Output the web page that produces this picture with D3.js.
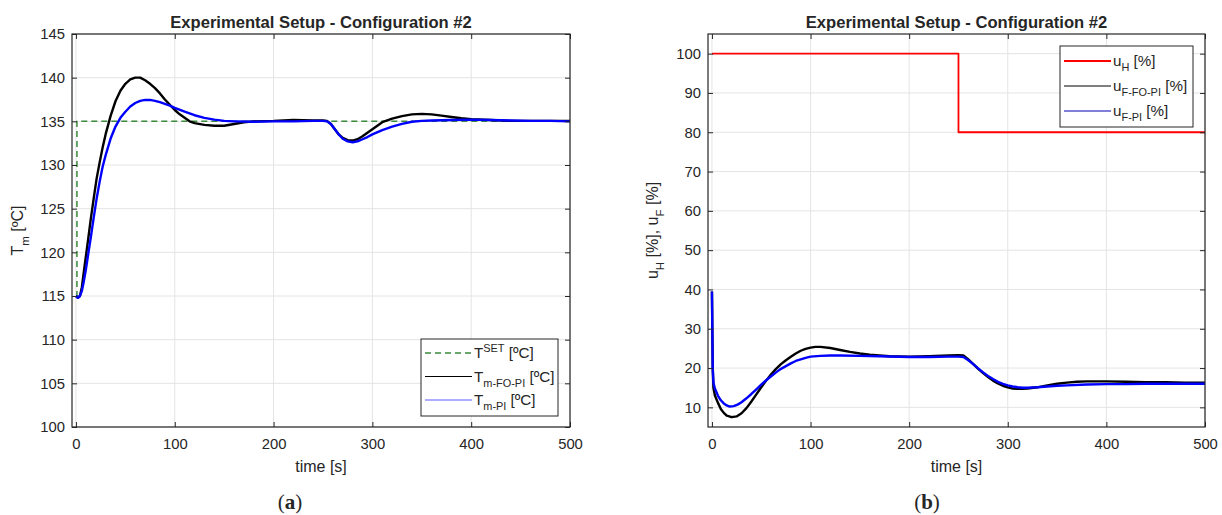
<!DOCTYPE html>
<html>
<head>
<meta charset="utf-8">
<script src="https://cdn.jsdelivr.net/npm/d3@7"></script>
<style>
  body { margin: 0; background: #fff; }
  svg text { font-family: "Liberation Sans", Arial, sans-serif; fill: #262626; }
</style>
</head>
<body>
<svg id="chart" width="1222" height="515"></svg>
<script>

// ---- data ----
const timeTicks = [0, 100, 200, 300, 400, 500]
const tempTicks = [100, 105, 110, 115, 120, 125, 130, 135, 140, 145]
const ctrlTicks = [10, 20, 30, 40, 50, 60, 70, 80, 90, 100]

// (a) temperatures [t, degC]
const tSet = [[0, 115], [1, 115], [1, 135], [500, 135]]

const tmFoPi = [[0, 115], [2, 114.8], [4, 115], [6, 116], [8, 117.8], [10, 119.5], [12, 121.2], [15, 123.8],
  [18, 126.2], [21, 128.5], [24, 130.3], [27, 132], [30, 133.5], [35, 135.6], [40, 137.3], [45, 138.5],
  [50, 139.3], [55, 139.8], [60, 140], [65, 140], [70, 139.7], [75, 139.3], [80, 138.8], [85, 138.2],
  [90, 137.5], [95, 136.9], [100, 136.3], [105, 135.8], [110, 135.4], [115, 135.0], [120, 134.8],
  [130, 134.6], [140, 134.5], [150, 134.5], [160, 134.7], [170, 134.9], [180, 135.0], [200, 135.05],
  [220, 135.15], [240, 135.1], [250, 135.1], [254, 135.05], [258, 134.7], [262, 134.1], [266, 133.5],
  [270, 133.1], [275, 132.85], [280, 132.8], [285, 132.95], [290, 133.3], [295, 133.7], [300, 134.1],
  [305, 134.5], [310, 134.9], [320, 135.3], [330, 135.6], [340, 135.8], [350, 135.85], [360, 135.8],
  [370, 135.65], [380, 135.5], [390, 135.35], [400, 135.25], [420, 135.15], [440, 135.05],
  [460, 135.05], [480, 135.05], [500, 135.05]]

const tmPi = [[0, 115], [2, 114.8], [4, 115], [6, 115.6], [8, 116.7], [10, 118], [12, 119.5], [15, 121.7],
  [18, 124], [21, 126.2], [24, 128.1], [27, 129.8], [30, 131.1], [35, 133], [40, 134.4], [45, 135.4],
  [50, 136.1], [55, 136.7], [60, 137.1], [65, 137.35], [70, 137.45], [75, 137.45], [80, 137.35],
  [85, 137.2], [90, 137.0], [95, 136.8], [100, 136.55], [110, 136.1], [120, 135.7], [130, 135.4],
  [140, 135.2], [150, 135.05], [160, 135.0], [180, 134.95], [200, 135.0], [220, 135.0], [240, 135.05],
  [250, 135.05], [254, 135.0], [258, 134.7], [262, 134.1], [266, 133.5], [270, 133.0], [275, 132.7],
  [280, 132.6], [285, 132.7], [290, 132.95], [295, 133.2], [300, 133.5], [310, 134.0], [320, 134.4],
  [330, 134.7], [340, 134.95], [350, 135.05], [360, 135.1], [380, 135.15], [400, 135.2], [420, 135.15],
  [440, 135.1], [460, 135.05], [480, 135.05], [500, 135.0]]

// (b) control signals [t, %]
const uH = [[0, 100], [250, 100], [250, 80], [500, 80]]

const uFoPi = [[0, 39.5], [0.8, 20], [1.5, 15], [3, 13], [6, 11.2], [9, 9.6], [12, 8.6], [15, 7.9],
  [20, 7.5], [25, 7.7], [30, 8.5], [35, 9.8], [40, 11.5], [45, 13.3], [50, 15.1], [55, 16.8], [60, 18.4],
  [65, 19.8], [70, 21], [75, 22], [80, 22.9], [85, 23.7], [90, 24.4], [95, 24.9], [100, 25.2], [105, 25.4],
  [110, 25.4], [120, 25.1], [130, 24.6], [140, 24.1], [150, 23.7], [160, 23.4], [170, 23.2], [180, 23.0],
  [200, 22.9], [220, 23.0], [240, 23.2], [250, 23.3], [255, 23.2], [260, 22.2], [265, 21.0], [270, 19.8],
  [275, 18.7], [280, 17.7], [285, 16.8], [290, 16.1], [295, 15.5], [300, 15.1], [305, 14.8], [310, 14.7],
  [315, 14.7], [320, 14.8], [330, 15.1], [340, 15.6], [350, 16.0], [360, 16.3], [370, 16.5], [380, 16.6],
  [400, 16.6], [420, 16.5], [440, 16.4], [460, 16.4], [480, 16.3], [500, 16.3]]

const uPi = [[0, 39.5], [0.8, 20], [1.5, 16.3], [3, 14.8], [6, 13], [9, 11.8], [12, 11], [15, 10.5],
  [18, 10.2], [22, 10.3], [26, 10.7], [30, 11.3], [35, 12.3], [40, 13.4], [45, 14.6], [50, 15.8], [55, 16.9],
  [60, 17.9], [65, 18.9], [70, 19.8], [75, 20.5], [80, 21.2], [85, 21.8], [90, 22.2], [95, 22.6],
  [100, 22.9], [110, 23.1], [120, 23.2], [130, 23.2], [150, 23.1], [170, 23.0], [200, 22.8], [220, 22.8],
  [240, 22.9], [250, 22.9], [255, 22.8], [260, 22.0], [265, 21.0], [270, 19.9], [275, 18.9], [280, 18.0],
  [285, 17.2], [290, 16.5], [295, 16.0], [300, 15.6], [305, 15.3], [310, 15.1], [315, 15.0], [320, 15.0],
  [330, 15.1], [340, 15.3], [350, 15.5], [360, 15.6], [380, 15.8], [400, 15.9], [420, 15.9], [440, 16.0],
  [460, 16.0], [480, 16.0], [500, 16.0]]


const svg = d3.select("#chart")

// text with tex-like sub/superscripts: parts = [[text, 0|'sub'|'sup'], ...]
function richText(sel, parts, size) {
    let shift = 0
    parts.forEach(p => {
        const target = p[1] === 'sub' ? size * 0.36 : p[1] === 'sup' ? -size * 0.4 : 0
        sel.append('tspan')
            .attr('dy', target - shift)
            .attr('font-size', p[1] ? size * 0.72 : size)
            .text(p[0])
        shift = target
    })
}


function drawPanel(o) {

    const x = d3.scaleLinear().domain([-4, 500]).range([o.left, o.right])
    const y = d3.scaleLinear().domain(o.yDomain).range([427, 34])
    const top = 34, bottom = 427

    const g = svg.append('g')

    // grid
    g.selectAll('.vgrid').data(timeTicks).enter().append('line')
        .attr('x1', d => x(d)).attr('x2', d => x(d))
        .attr('y1', top).attr('y2', bottom)
        .attr('stroke', '#e4e4e4')
    g.selectAll('.hgrid').data(o.yTicks).enter().append('line')
        .attr('x1', o.left).attr('x2', o.right)
        .attr('y1', d => y(d)).attr('y2', d => y(d))
        .attr('stroke', '#e4e4e4')

    // lines
    const clipId = 'clip' + o.id
    svg.append('clipPath').attr('id', clipId)
        .append('rect').attr('x', o.left).attr('y', top)
        .attr('width', o.right - o.left).attr('height', bottom - top)

    const line = d3.line().x(d => x(d[0])).y(d => y(d[1]))

    o.series.forEach(s => {
        g.append('path')
            .datum(s.data)
            .attr('clip-path', 'url(#' + clipId + ')')
            .attr('fill', 'none')
            .attr('stroke', s.color)
            .attr('stroke-width', s.width)
            .attr('stroke-dasharray', s.dash || null)
            .attr('stroke-linejoin', 'round')
            .attr('d', line)
    })

    // axes (ticks inward, on all four sides)
    const styleAxis = a => {
        a.select('.domain').remove()
        a.selectAll('line').attr('stroke', '#262626')
        a.selectAll('text').attr('font-size', 14.8).attr('fill', '#262626')
            .attr('font-family', '"Liberation Sans", Arial, sans-serif')
    }

    g.append('g').attr('transform', `translate(0,${bottom})`)
        .call(d3.axisBottom(x).tickValues(timeTicks).tickSize(-5).tickPadding(11))
        .call(styleAxis)
    g.append('g').attr('transform', `translate(0,${top})`)
        .call(d3.axisTop(x).tickValues(timeTicks).tickSize(-5).tickFormat(''))
        .call(styleAxis)
    g.append('g').attr('transform', `translate(${o.left},0)`)
        .call(d3.axisLeft(y).tickValues(o.yTicks).tickSize(-5).tickPadding(7))
        .call(styleAxis)
    g.append('g').attr('transform', `translate(${o.right},0)`)
        .call(d3.axisRight(y).tickValues(o.yTicks).tickSize(-5).tickFormat(''))
        .call(styleAxis)

    g.append('rect')
        .attr('x', o.left).attr('y', top)
        .attr('width', o.right - o.left).attr('height', bottom - top)
        .attr('fill', 'none').attr('stroke', '#262626').attr('stroke-width', 1.2)

    // title, labels, caption
    const cx = (o.left + o.right) / 2
    g.append('text').attr('x', cx).attr('y', 28)
        .attr('text-anchor', 'middle').attr('font-size', 16.6).attr('font-weight', 'bold')
        .attr('fill', '#111')
        .text('Experimental Setup - Configuration #2')

    g.append('text').attr('x', cx).attr('y', 472)
        .attr('text-anchor', 'middle').attr('font-size', 16)
        .text('time [s]')

    const yl = g.append('text')
        .attr('transform', `translate(${o.ylabelX},${(top + bottom) / 2}) rotate(-90)`)
        .attr('text-anchor', 'middle')
    richText(yl, o.ylabel, 16)

    const cap = g.append('text').attr('x', o.captionX).attr('y', 509)
        .attr('text-anchor', 'middle').attr('font-size', 21)
        .style('font-family', '"Liberation Serif", "DejaVu Serif", serif')
        .attr('fill', '#000')
    cap.append('tspan').text('(')
    cap.append('tspan').attr('font-weight', 'bold').text(o.caption)
    cap.append('tspan').text(')')

    // legend
    const L = o.legend
    const lg = g.append('g')
    lg.append('rect')
        .attr('x', L.x).attr('y', L.y).attr('width', L.w).attr('height', L.h)
        .attr('fill', '#fff').attr('stroke', '#262626').attr('stroke-width', 1)
    o.series.forEach((s, i) => {
        const ry = L.y + L.first + i * L.step
        lg.append('line')
            .attr('x1', L.x + 4).attr('x2', L.x + 51)
            .attr('y1', ry).attr('y2', ry)
            .attr('stroke', s.legendColor || s.color).attr('stroke-width', s.legendWidth)
            .attr('stroke-dasharray', s.dash || null)
        const t = lg.append('text').attr('x', L.x + 53).attr('y', ry + 5)
        richText(t, s.label, 15.2)
    })
}


drawPanel({
    id: 'a',
    left: 72, right: 570,
    yDomain: [100, 145],
    yTicks: tempTicks,
    ylabelX: 23,
    ylabel: [['T', 0], ['m', 'sub'], [' [ºC]', 0]],
    caption: 'a',
    captionX: 290,
    legend: { x: 421, y: 339, w: 137, h: 77, first: 14, step: 23.5 },
    series: [
        { data: tSet, color: '#3a8a3a', width: 1.5, legendWidth: 1.5, dash: '6,4',
          label: [['T', 0], ['SET', 'sup'], [' [ºC]', 0]] },
        { data: tmFoPi, color: '#000', width: 2.4, legendWidth: 1,
          label: [['T', 0], ['m-FO-PI', 'sub'], [' [ºC]', 0]] },
        { data: tmPi, color: '#0000ff', width: 2.4, legendWidth: 1, legendColor: '#5a5aff',
          label: [['T', 0], ['m-PI', 'sub'], [' [ºC]', 0]] }
    ]
})

drawPanel({
    id: 'b',
    left: 708, right: 1205,
    yDomain: [5, 105],
    yTicks: ctrlTicks,
    ylabelX: 658,
    ylabel: [['u', 0], ['H', 'sub'], [' [%], u', 0], ['F', 'sub'], [' [%]', 0]],
    caption: 'b',
    captionX: 927,
    legend: { x: 1060, y: 46, w: 133, h: 81, first: 15, step: 25 },
    series: [
        { data: uH, color: '#ff0000', width: 1.8, legendWidth: 1.8,
          label: [['u', 0], ['H', 'sub'], [' [%]', 0]] },
        { data: uFoPi, color: '#000', width: 2.4, legendWidth: 1,
          label: [['u', 0], ['F-FO-PI', 'sub'], [' [%]', 0]] },
        { data: uPi, color: '#0000ff', width: 2.4, legendWidth: 1, legendColor: '#0000b0',
          label: [['u', 0], ['F-PI', 'sub'], [' [%]', 0]] }
    ]
})

</script>
</body>
</html>
